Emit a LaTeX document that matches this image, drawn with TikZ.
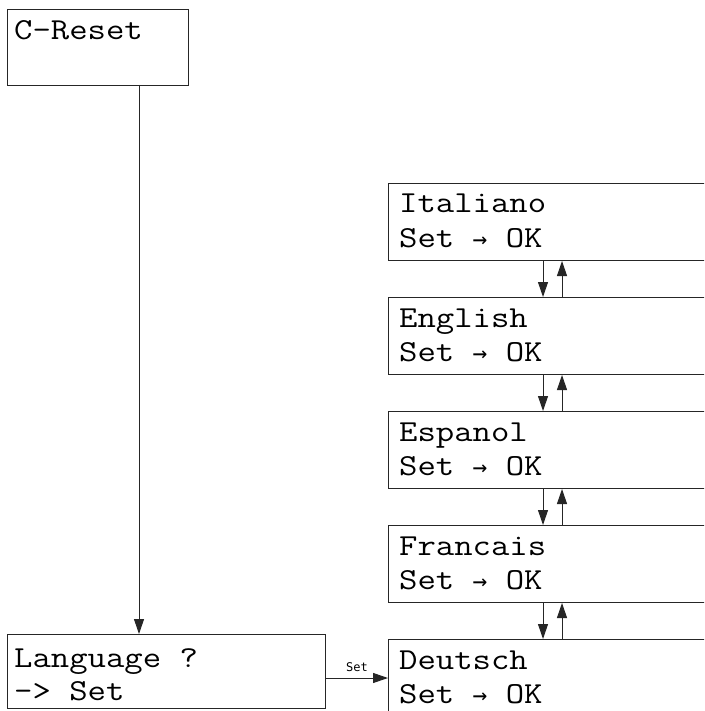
\documentclass[tikz,border=0pt]{standalone}
\usepackage{fontspec}
\setmonofont{Latin Modern Mono}[FakeStretch=1.17]
\newfontfamily\smallmono{DejaVu Sans Mono}
\newfontfamily\arrowfont{DejaVu Sans Mono}[Scale=0.8]
\usetikzlibrary{arrows.meta}
\tikzset{
  box/.style={draw=black!85, line width=1pt, rectangle, inner sep=0pt, anchor=north west},
  txt/.style={font=\ttfamily\fontsize{30.5}{34}\selectfont, anchor=base west, inner sep=0pt},
  arr/.style={draw=black!85, line width=1pt, -{Triangle[length=15pt,width=10pt]}},
  setlbl/.style={font=\smallmono\fontsize{12}{14}\selectfont, inner sep=0pt}
}
\newcommand{\setok}{Set {\arrowfont →} OK}
\begin{document}
\begin{tikzpicture}[x=1pt,y=-1pt]
\useasboundingbox (0,0) rectangle (704,711);
\clip (0,0) rectangle (704,711);
\fill[white] (0,0) rectangle (704,711);
% left boxes
\node[box, minimum width=181pt, minimum height=76pt] (cr) at (7,9) {};
\node[txt] (crt) at ([shift={(7,31)}]cr.north west) {C-Reset};
\node[box, minimum width=318pt, minimum height=74pt] (lang) at (7,634) {};
\node[txt] (langt1) at ([shift={(7,33)}]lang.north west) {Language ?};
\node[txt] (langt2) at ([shift={(7,66)}]lang.north west) {-> Set};
% right boxes
\foreach \n/\lab/\y in {it/Italiano/183, en/English/297, es/Espanol/411, fr/Francais/525, de/Deutsch/639}{
  \node[box, minimum width=340pt, minimum height=77pt] (\n) at (388,\y) {};
  \node[txt] (\n t1) at ([shift={(11,30)}]\n.north west) {\lab};
  \node[txt] (\n t2) at ([shift={(11,64)}]\n.north west) {\setok};
}
% vertical arrow
\coordinate (a) at (139,85);
\draw[arr] (a) -- (a |- lang.north);
% between boxes
\foreach \u/\d in {it/en, en/es, es/fr, fr/de}{
  \coordinate (dn\u) at (543,0);
  \coordinate (up\u) at (562,0);
  \draw[arr] (dn\u |- \u.south) -- (dn\u |- \d.north);
  \draw[arr] (up\u |- \d.north) -- (up\u |- \u.south);
}
% set arrow
\draw[arr] (lang.east |- de.west) -- node[setlbl, above=6pt] (setl) {Set} (de.west);
\end{tikzpicture}
\end{document}
